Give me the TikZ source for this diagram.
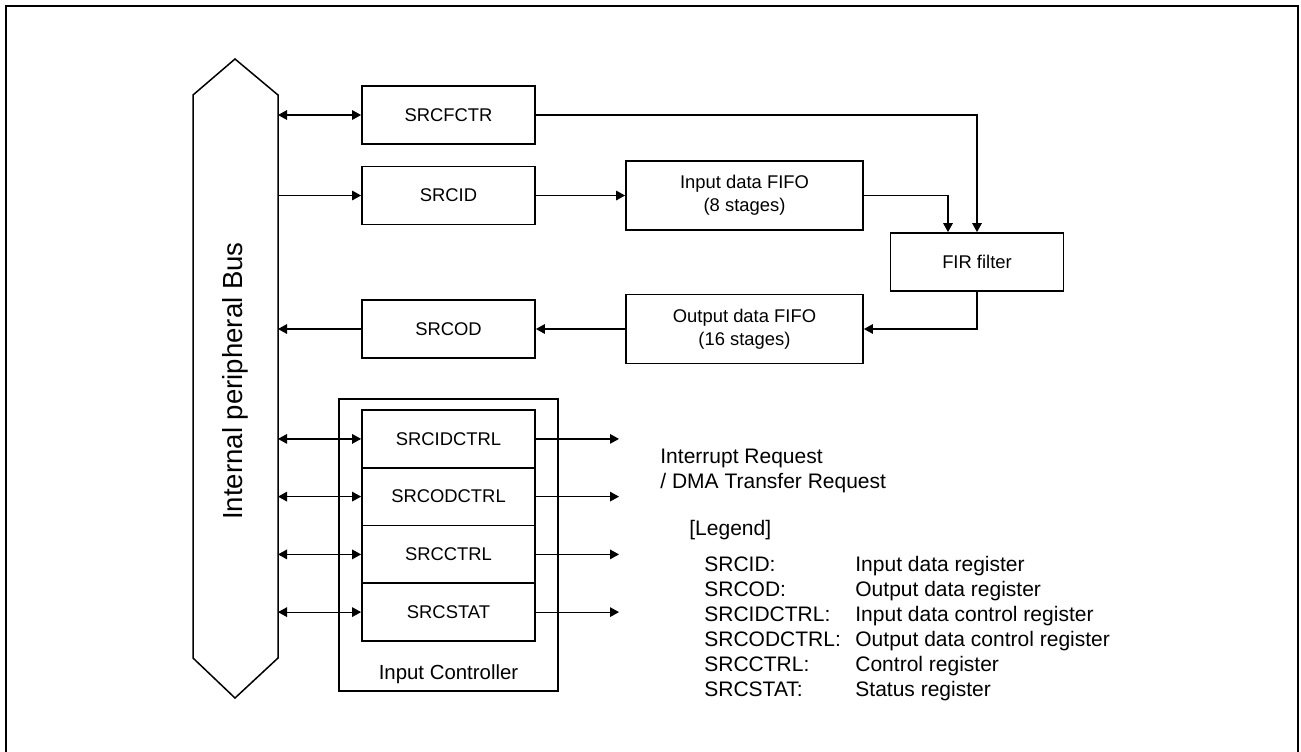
\documentclass[tikz,border=0pt]{standalone}
\usepackage{fontspec}
\setmainfont{Liberation Sans}
\usetikzlibrary{arrows.meta}

\begin{document}
\begin{tikzpicture}[x=0.5pt, y=-0.5pt,
  reg/.style={draw, line width=0.9pt, minimum width=86.5pt, minimum height=29pt,
    inner sep=0pt, align=center, font=\fontsize{9.2}{11.5}\selectfont},
  fifo/.style={reg, minimum width=118.5pt, minimum height=34.5pt},
  ctl/.style={reg, minimum height=28.9pt},
  lbl/.style={anchor=base west, inner sep=0pt, align=left,
    font=\fontsize{10.5}{12.5}\selectfont},
  link/.style={line width=0.6pt, -{Triangle[length=4.5pt, width=4.8pt]}},
  both/.style={line width=0.6pt,
    {Triangle[length=4.5pt, width=4.8pt]}-{Triangle[length=4.5pt, width=4.8pt]}}]
  \useasboundingbox (0,0) rectangle (1301,751);
  \draw[line width=1pt] (6,6) rectangle (1298,760);

  % bus
  \draw[line width=0.75pt] (193,95) -- (235,59) -- (278,95) -- (278,658)
    -- (235,698) -- (193,658) -- cycle;
  \node[rotate=90, font=\fontsize{13.8}{16}\selectfont] (bus) at (235,381)
    {Internal peripheral Bus};
  \coordinate (b1) at (278,115);
  \coordinate (b2) at (278,195.5);
  \coordinate (b3) at (278,329);

  \node[reg]  (fctr) at (448.5,115)   {SRCFCTR};
  \node[reg]  (id)   at (448.5,195.5) {SRCID};
  \node[reg]  (od)   at (448.5,329)   {SRCOD};
  \node[fifo] (fin)  at (744.5,195.5) {Input data FIFO\\(8 stages)};
  \node[fifo] (fout) at (744.5,329)   {Output data FIFO\\(16 stages)};
  \node[reg]  (fir)  at (977,262)     {FIR filter};

  \draw[both] (b1) -- (fctr.west);
  \draw[link] (b2) -- (id.west);
  \draw[link] (id) -- (fin);
  \draw[link] (fctr.east) -| (fir.north);
  \draw[link] (fin.east) -| ([xshift=-14.5pt]fir.north);
  \draw[link] (fir.south) |- (fout.east);
  \draw[link] (fout) -- (od);
  \draw[link] (od) -- (b3);

  % input controller
  \node[draw, line width=0.8pt, minimum width=109.5pt, minimum height=146pt]
    (ictl) at (448.5,545) {};
  \node[anchor=base, font=\fontsize{10.2}{12}\selectfont] (ictlname) at (448.5,679)
    {Input Controller};
  \foreach \name/\y [count=\i] in {SRCIDCTRL/438.9, SRCODCTRL/496.6,
      SRCCTRL/554.4, SRCSTAT/612.1} {
    \node[ctl] (c\i) at (448.5,\y) {\name};
    \coordinate (bc\i) at (278,\y);
    \coordinate (rq\i) at (619,\y);
    \draw[both] (bc\i) -- (c\i.west);
    \draw[link] (c\i.east) -- (rq\i);
  }

  \node[lbl] (irq) at (660,488) {Interrupt Request\\/ DMA Transfer Request};
  \node[lbl] (leg) at (689,535) {[Legend]};
  \foreach \reg/\desc [count=\i] in {SRCID:/Input data register,
      SRCOD:/Output data register, SRCIDCTRL:/Input data control register,
      SRCODCTRL:/Output data control register, SRCCTRL:/Control register,
      SRCSTAT:/Status register} {
    \node[lbl] (k\i) at (704,{546+25*\i}) {\reg};
    \node[lbl] (v\i) at (855,{546+25*\i}) {\desc};
  }
\end{tikzpicture}
\end{document}
